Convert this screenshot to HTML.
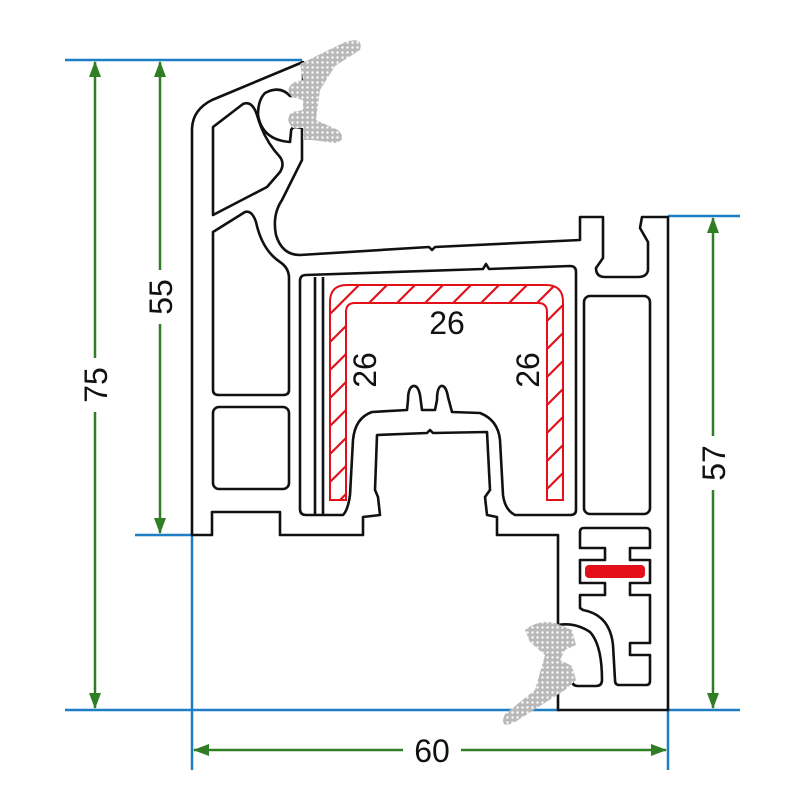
<!DOCTYPE html>
<html><head><meta charset="utf-8"><style>
html,body{margin:0;padding:0;background:#fff;}
svg{display:block;}
text{font-family:"Liberation Sans",Arial,sans-serif;}
</style></head><body>
<svg width="800" height="800" viewBox="0 0 800 800" xmlns="http://www.w3.org/2000/svg">
<defs>
<pattern id="dots" width="5" height="5" patternUnits="userSpaceOnUse">
<rect width="5" height="5" fill="#b9b9b9"/><circle cx="2.5" cy="2.5" r="1.2" fill="#fff"/>
</pattern>
<pattern id="hatch" width="28" height="28" patternUnits="userSpaceOnUse">
<rect width="28" height="28" fill="#fff"/>
<path d="M-7,35 L35,-7 M-21,21 L21,-21 M7,49 L49,7" stroke="#e3101a" stroke-width="2.2"/>
</pattern>
<marker id="ar" markerWidth="16" markerHeight="12" refX="15" refY="6" orient="auto-start-reverse" markerUnits="userSpaceOnUse">
<path d="M0,0 L16,6 L0,12 Z" fill="#2f7d24"/>
</marker>
</defs>

<g stroke="#1c7fc3" stroke-width="2.5" fill="none">
<line x1="65" y1="60" x2="302" y2="60"/>
<line x1="135" y1="535" x2="192" y2="535"/>
<line x1="65" y1="710" x2="560" y2="710"/>
<line x1="668" y1="710" x2="740" y2="710"/>
<line x1="668" y1="216" x2="740" y2="216"/>
<line x1="192" y1="535" x2="192" y2="770"/>
<line x1="668" y1="710" x2="668" y2="770"/>
</g>

<g stroke="#2f7d24" stroke-width="2.5" fill="none">
<line x1="95" y1="62" x2="95" y2="708" marker-start="url(#ar)" marker-end="url(#ar)"/>
<line x1="160" y1="62" x2="160" y2="533" marker-start="url(#ar)" marker-end="url(#ar)"/>
<line x1="713" y1="218" x2="713" y2="708" marker-start="url(#ar)" marker-end="url(#ar)"/>
<line x1="194" y1="750" x2="666" y2="750" marker-start="url(#ar)" marker-end="url(#ar)"/>
</g>
<g fill="#fff">
<rect x="78" y="358" width="34" height="54"/>
<rect x="143" y="270" width="34" height="54"/>
<rect x="696" y="436" width="34" height="54"/>
<rect x="403" y="733" width="58" height="34"/>
</g>
<g font-size="32" fill="#111" text-anchor="middle">
<text x="432" y="762">60</text>
<text transform="translate(107,385) rotate(-90)">75</text>
<text transform="translate(172,297) rotate(-90)">55</text>
<text transform="translate(725,463) rotate(-90)">57</text>
</g>

<g stroke="#111" stroke-width="2.6" fill="#fff" stroke-linejoin="round">
<path d="M303,62 L212,100 Q192,110 192,130 L192,535 L212,535 L212,512 L280,512 L280,535 L363,535 L363,517 L380,515 L378,497 L375,490 L377,435 L427,433 L430,430 L433,433 L487,432 L490,490 L485,497 L487,515 L497,517 L497,535 L558,535 L558,625 Q575,622 590,632 Q602,645 602,680 Q602,686 596,686 L578,686 Q572,686 572,680 L572,675 L558,672 L558,710 L668,710 L668,217 L642,217 L640,228 L648,242 L648,270 Q647,277 638,277 L605,277 Q596,277 596,268 L603,258 L603,217 L580,217 L580,240 L435,247 L432,250 L429,247 L300,255 Q282,255 276,235 Q272,215 282,200 L302,160 L302,128 L296,127 Q291,127 291,132 L290,142 Q262,140 258,115 Q258,100 265,93 Q280,85 290,96 L296,96 Q303,97 303,90 Z"/>
<path d="M213,127 L243,104 Q252,100 257,115 Q264,140 280,157 Q285,164 280,172 L267,187 L213,215 Z"/>
<path d="M213,232 L245,212 Q252,210 256,222 Q262,250 280,262 Q289,268 289,278 L289,390 Q289,395 283,395 L219,395 Q213,395 213,390 Z"/>
<rect x="213" y="407" width="76" height="82" rx="6"/>
<path d="M306,275 L483,269 L486,264 L489,269 L570,266 Q576,266 576,272 L576,510 Q576,515 570,515 L515,515 Q505,510 503,495 L500,440 Q498,420 480,413 L452,412 L448,397 Q446,385 441,386 Q437,388 437,400 L435,410 L422,410 L420,395 Q418,385 413,386 Q408,388 408,400 L407,410 L372,412 Q355,418 353,440 L350,495 Q348,510 343,515 L306,515 Q300,515 300,509 L300,281 Q300,275 306,275 Z"/>
<line x1="315" y1="277" x2="315" y2="514"/>
<line x1="323" y1="277" x2="323" y2="514"/>
<rect x="584" y="296" width="66" height="218" rx="6"/>
<path d="M584,528 L646,528 Q650,528 650,532 L650,548 L630,548 L630,560 L650,560 L650,583 L630,583 L630,595 L650,595 L650,643 L630,643 L630,655 L650,655 L650,681 Q650,685 646,685 L619,685 Q615,685 615,680 L613,645 Q610,615 583,610 L580,608 L580,595 L605,595 L605,583 L580,583 L580,560 L605,560 L605,548 L580,548 L580,532 Q580,528 584,528 Z"/>
</g>
<rect x="585" y="565" width="60" height="13" rx="4" fill="#e3101a"/>

<path d="M330,500 L330,302 Q330,285 347,285 L546,285 Q563,285 563,302 L563,500 L547,500 L547,312 Q547,303 538,303 L355,303 Q346,303 346,312 L346,500 Z" fill="url(#hatch)" stroke="#e3101a" stroke-width="2"/>

<g font-size="32" fill="#111" text-anchor="middle">
<text x="447" y="334">26</text>
<text transform="translate(376,370) rotate(-90)">26</text>
<text transform="translate(539,370) rotate(-90)">26</text>
</g>

<path d="M300,64 L345,42 Q364,36 360,50 L335,66 L320,90 L316,120 L338,130 Q348,140 335,143 L312,140 L303,140 L303,128 L293,128 Q284,120 292,112 L303,110 L303,100 L292,97 Q284,88 295,82 L303,80 Z" fill="url(#dots)"/>
<path d="M525,630 Q540,618 558,624 L572,630 L576,645 L565,650 L560,660 L572,666 L576,680 L565,690 L540,706 L515,722 Q498,730 505,714 L535,690 L545,655 L530,642 Z" fill="url(#dots)"/>
</svg>
</body></html>
